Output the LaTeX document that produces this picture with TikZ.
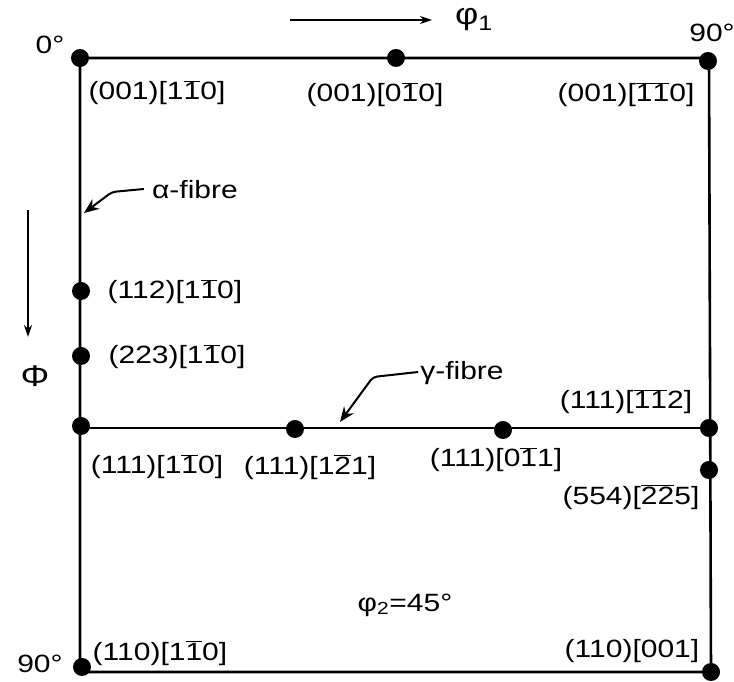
\documentclass[tikz,border=0pt]{standalone}
\usepackage{fontspec}
\setmainfont{Liberation Sans}
\usetikzlibrary{arrows.meta}
\newcommand{\ob}[1]{$\overline{\mbox{#1}}$}
\newcommand{\sx}[1]{\scalebox{1.2}[1]{#1}}
\tikzset{
  dot/.style={circle,fill=black,inner sep=0pt,minimum size=18pt},
  frameline/.style={line width=2.6pt},
  lbl/.style={font=\fontsize{25}{27}\selectfont,inner sep=0pt},
  axarrow/.style={line width=1.3pt,-{Stealth[length=12pt,width=8pt]}},
  fibarrow/.style={line width=2pt,rounded corners=4pt,-{Stealth[length=15pt,width=12pt]}}
}
\begin{document}
\begin{tikzpicture}[x=1pt,y=1pt]
\useasboundingbox (0,0) rectangle (734,682);
% dots
\node[dot] (tl) at (80,624) {};
\node[dot] (tm) at (396,624) {};
\node[dot] (tr) at (708,621) {};
\node[dot] (a1) at (81,391) {};
\node[dot] (a2) at (81,326) {};
\node[dot] (ml) at (81,256) {};
\node[dot] (g1) at (295,253) {};
\node[dot] (g2) at (503,252) {};
\node[dot] (mr) at (709,254) {};
\node[dot] (r1) at (709,212) {};
\node[dot] (bl) at (82,15) {};
\node[dot] (br) at (711,10) {};
% frame corners
\coordinate (ctl) at (80,624);
\coordinate (ctr) at (709,624);
\coordinate (cml) at (80,254);
\coordinate (cmr) at (709,254);
\coordinate (cbl) at (80,10);
\coordinate (cbr) at (711,10);
\draw[frameline] (ctl) -- (ctr) -- (cbr) -- (cbl) -- cycle;
\draw[frameline] (cml) -- (cmr);
% axis arrows
\coordinate (p1s) at (290,662);
\coordinate (p1e) at (432,662);
\draw[axarrow] (p1s) -- (p1e);
\node[lbl,font=\fontsize{30}{32}\selectfont] (phi1) at (474,662) {\sx{φ\textsubscript{1}}};
\coordinate (Phs) at (28,472);
\coordinate (Phe) at (28,345);
\draw[axarrow] (Phs) -- (Phe);
\node[lbl,font=\fontsize{30}{32}\selectfont] (Phi) at (35,306) {\sx{Φ}};
% corner angles
\node[lbl] (z0) at (50,637) {\sx{0°}};
\node[lbl] (n90a) at (712,649) {\sx{90°}};
\node[lbl] (n90b) at (40,18) {\sx{90°}};
% labels
\node[lbl] (L1) at (157,589) {\sx{(001)[1\ob{1}0]}};
\node[lbl] (L2) at (375,587) {\sx{(001)[0\ob{1}0]}};
\node[lbl] (L3) at (626,587) {\sx{(001)[\ob{1}\ob{1}0]}};
\node[lbl] (L4) at (175,390) {\sx{(112)[1\ob{1}0]}};
\node[lbl] (L5) at (177,325) {\sx{(223)[1\ob{1}0]}};
\node[lbl] (L6) at (157,215) {\sx{(111)[1\ob{1}0]}};
\node[lbl] (L7) at (310,215) {\sx{(111)[1\ob{2}1]}};
\node[lbl] (L8) at (496,222) {\sx{(111)[0\ob{1}1]}};
\node[lbl] (L9) at (626,280) {\sx{(111)[\ob{1}\ob{1}2]}};
\node[lbl] (L10) at (631,185) {\sx{(554)[\ob{2}\ob{2}5]}};
\node[lbl] (L11) at (160,29) {\sx{(110)[1\ob{1}0]}};
\node[lbl] (L12) at (632,31) {\sx{(110)[001]}};
\node[lbl] (phi2) at (405,77) {\sx{φ\textsubscript{2}=45°}};
% fibre labels and arrows
\node[lbl] (af) at (195,492) {\sx{α-fibre}};
\node[lbl] (gf) at (462,309) {\sx{γ-fibre}};
\coordinate (afb) at (112,490);
\coordinate (afe) at (84,469);
\coordinate (gfb) at (373,305);
\coordinate (gfe) at (340,260);
\draw[fibarrow] (af.west) ++(-8,1) -- (afb) -- (afe);
\draw[fibarrow] (gf.west) ++(-2,1) -- (gfb) -- (gfe);
\end{tikzpicture}
\end{document}
